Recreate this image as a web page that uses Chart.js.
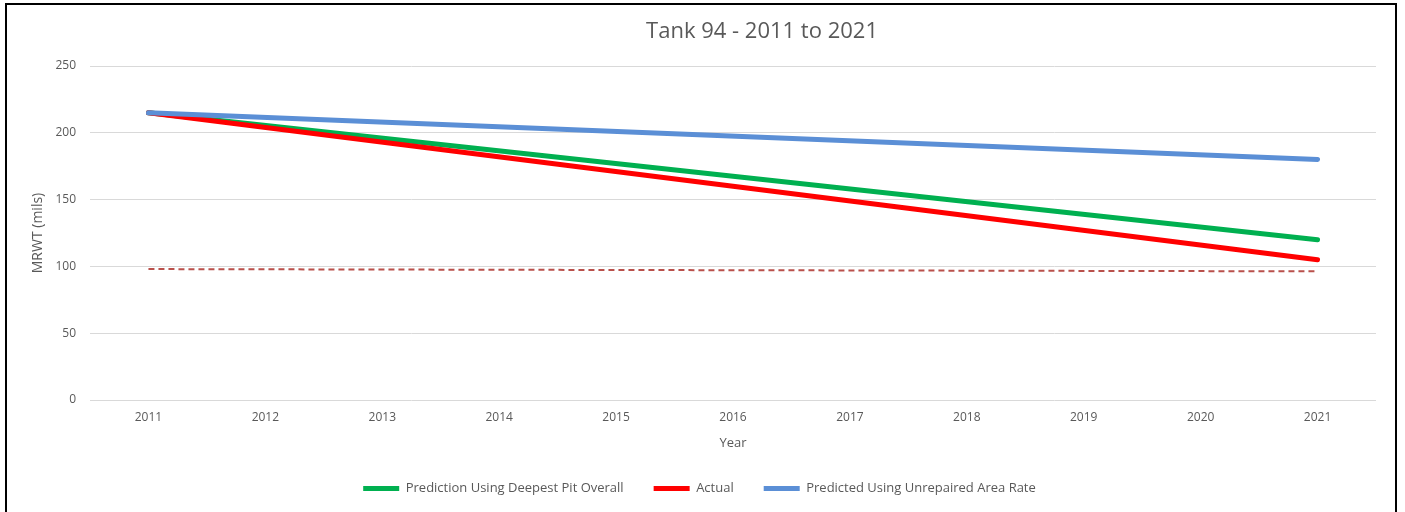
<!DOCTYPE html>
<html>
<head>
<meta charset="utf-8">
<title>Tank 94 - 2011 to 2021</title>
<script src="https://cdn.jsdelivr.net/npm/chart.js@4.4.0/dist/chart.umd.min.js"></script>
<style>
    body { margin: 0; background: #fff; }
    #frame { position: absolute; left: 5px; top: 3px; width: 1388px; height: 520px; border: 2px solid #000; background: #fff; }
</style>
</head>
<body>
<div id="frame">
    <canvas id="tankChart" width="1388" height="507"></canvas>
</div>
<script>
// Chart data
var chartTitle = 'Tank 94 - 2011 to 2021';
var years = ['2011', '2012', '2013', '2014', '2015', '2016', '2017', '2018', '2019', '2020', '2021'];

// Only the end points are known; lines are straight between them
var deepestPit = [215, null, null, null, null, null, null, null, null, null, 120];
var actual     = [215, null, null, null, null, null, null, null, null, null, 105];
var unrepaired = [215, null, null, null, null, null, null, null, null, null, 180];
var minLimit   = [98, null, null, null, null, null, null, null, null, null, 96.3];

var textColor = '#595959';
var gridColor = '#d9d9d9';
var fontFamily = '"Open Sans", "Noto Sans", sans-serif';

// Title drawn a bit right of the canvas centre, like the original
var titlePlugin = {
    id: 'offsetTitle',
    afterDraw: function(chart) {
        var ctx = chart.ctx;
        ctx.save();
        ctx.font = '22px ' + fontFamily;
        ctx.fillStyle = textColor;
        ctx.textAlign = 'center';
        ctx.textBaseline = 'middle';
        ctx.fillText(chartTitle, 755, 27);
        ctx.restore();
    }
};

function lineSet(label, data, color, order) {
    return {
        label: label,
        data: data,
        borderColor: color,
        backgroundColor: color,
        borderWidth: 5,
        borderCapStyle: 'round',
        pointRadius: 0,
        pointHoverRadius: 0,
        tension: 0,
        spanGaps: true,
        order: order
    };
}

var ctx = document.getElementById('tankChart');
var limitSet = lineSet('Limit', minLimit, '#b9504b', 4);
limitSet.borderWidth = 2;
limitSet.borderDash = [6, 4];
limitSet.borderCapStyle = 'butt';

new Chart(ctx, {
    type: 'line',
    data: {
        labels: years,
        datasets: [
            lineSet('Prediction Using Deepest Pit Overall', deepestPit, '#00b050', 3),
            lineSet('Actual', actual, '#ff0000', 2),
            lineSet('Predicted Using Unrepaired Area Rate', unrepaired, '#5b8fd6', 1),
            limitSet
        ]
    },
    options: {
        responsive: false,
        animation: false,
        layout: {
            padding: { top: 61, right: 19, bottom: 12, left: 16 }
        },
        scales: {
            x: {
                offset: true,
                grid: { display: false, drawTicks: false },
                border: { display: false },
                ticks: {
                    color: textColor,
                    font: { family: fontFamily, size: 12 },
                    padding: 10,
                    maxRotation: 0
                },
                title: {
                    display: true,
                    text: 'Year',
                    color: textColor,
                    font: { family: fontFamily, size: 13 },
                    padding: { top: 0, bottom: 1 }
                },
                afterFit: function(scale) { scale.height = 52; }
            },
            y: {
                min: 0,
                max: 250,
                grid: { color: gridColor, drawTicks: false },
                border: { display: false },
                ticks: {
                    stepSize: 50,
                    color: textColor,
                    font: { family: fontFamily, size: 12 },
                    padding: 14
                },
                title: {
                    display: true,
                    text: 'MRWT (mils)',
                    color: textColor,
                    font: { family: fontFamily, size: 14 },
                    padding: { top: 7, bottom: 0 }
                },
                afterFit: function(scale) { scale.width = 67; }
            }
        },
        plugins: {
            title: { display: false },
            tooltip: { enabled: false },
            legend: {
                position: 'bottom',
                maxHeight: 48,
                labels: {
                    color: textColor,
                    font: { family: fontFamily, size: 13 },
                    padding: 30,
                    usePointStyle: true,
                    pointStyle: 'line',
                    pointStyleWidth: 36,
                    boxHeight: 5,
                    filter: function(item) { return item.datasetIndex !== 3; },
                    sort: function(a, b) { return a.datasetIndex - b.datasetIndex; }
                }
            }
        }
    },
    plugins: [titlePlugin]
});
</script>
</body>
</html>
